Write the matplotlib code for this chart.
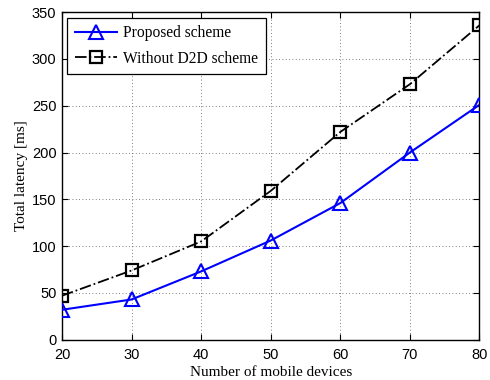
import matplotlib
matplotlib.use("Agg")
import matplotlib.pyplot as plt

x = [20, 30, 40, 50, 60, 70, 80]
proposed = [32, 43, 73, 106, 146, 200, 251]
without_d2d = [47, 74, 105, 159, 222, 273, 336]
xticks = [20, 30, 40, 50, 60, 70, 80]
yticks = [0, 50, 100, 150, 200, 250, 300, 350]

fig = plt.figure(figsize=(4.9, 3.8), dpi=100)
ax = fig.add_axes([0.1265, 0.106, 0.852, 0.862])

ax.plot(x, proposed, color='#0000ff', linestyle='-', linewidth=1.5, marker='^',
        markersize=10, markerfacecolor='none', markeredgecolor='#0000ff', markeredgewidth=1.5,
        label='Proposed scheme', zorder=3)
ax.plot(x, without_d2d, color='black', linestyle='-.', linewidth=1.3, marker='s',
        markersize=8, markerfacecolor='none', markeredgecolor='black', markeredgewidth=1.6,
        label='Without D2D scheme', zorder=3)

ax.set_xlim(20, 80)
ax.set_ylim(0, 350)
ax.set_xticks(xticks)
ax.set_yticks(yticks)
ax.grid(True, linestyle=(0, (1, 3)), color='#555555', linewidth=0.6)
ax.tick_params(direction='in', top=True, right=True, labelsize=10.5, length=4, width=0.8)
ax.tick_params(axis='x', pad=6)
ax.tick_params(axis='y', pad=4)
for lbl in ax.get_xticklabels() + ax.get_yticklabels():
    lbl.set_family('Liberation Sans')
for s in ax.spines.values():
    s.set_linewidth(1.0)

ax.set_xlabel('Number of mobile devices', family='Liberation Serif', fontsize=11, labelpad=3)
ax.set_ylabel('Total latency [ms]', family='Liberation Serif', fontsize=11, labelpad=3)

leg = ax.legend(loc='upper left', prop={'family': 'Liberation Serif', 'size': 11.2},
                fancybox=False, edgecolor='black', framealpha=1, handlelength=2.7,
                handletextpad=0.4, borderaxespad=0.35, labelspacing=0.6, borderpad=0.5)
leg.get_frame().set_linewidth(0.9)

fig.savefig('out.png', dpi=100)
